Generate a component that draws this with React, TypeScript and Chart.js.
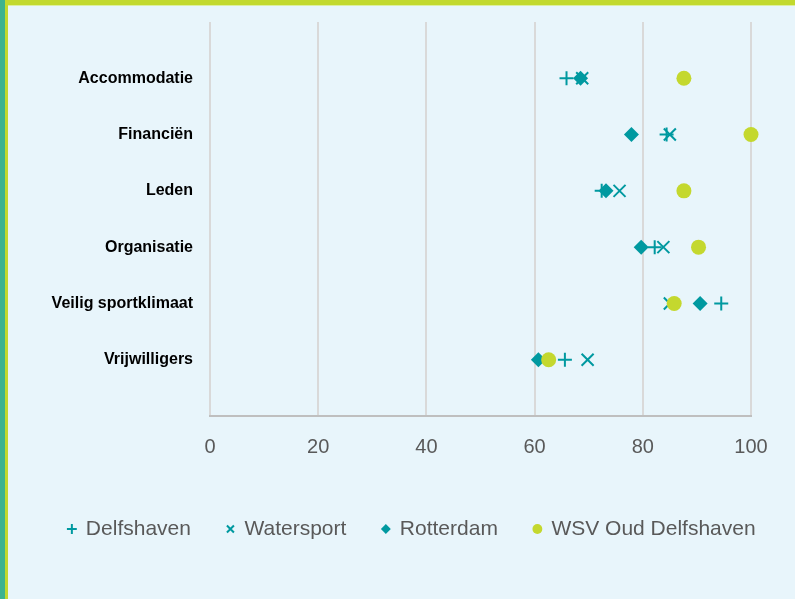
import React, { useEffect, useRef } from 'react';
import { Chart, registerables } from 'chart.js';

Chart.register(...registerables);

const categories = ['Accommodatie', 'Financiën', 'Leden', 'Organisatie', 'Veilig sportklimaat', 'Vrijwilligers'];
const seriesNames = ['Delfshaven', 'Watersport', 'Rotterdam', 'WSV Oud Delfshaven'];
const delfshaven = [65.9, 84.4, 72.4, 82.2, 94.5, 65.6];
const watersport = [68.8, 85.0, 75.7, 83.8, 85.0, 69.8];
const rotterdam = [68.5, 77.9, 73.2, 79.7, 90.6, 60.7];
const wsvOudDelfshaven = [87.6, 100, 87.6, 90.3, 85.8, 62.6];
const xMin = 0;
const xMax = 100;
const xStep = 20;

const TEAL = '#0099A0';
const LIME = '#C4D82E';

function points(values: number[]) {
  return values.map((v, i) => ({ x: v, y: i + 1 }));
}

export default function App() {
  const ref = useRef<HTMLCanvasElement | null>(null);

  useEffect(() => {
    if (!ref.current) return;
    const chart = new Chart(ref.current, {
      type: 'scatter',
      data: {
        datasets: [
          {
            label: seriesNames[0],
            data: points(delfshaven),
            pointStyle: 'cross',
            pointRadius: 7,
            borderColor: TEAL,
            backgroundColor: TEAL,
            borderWidth: 2,
            order: 4,
          },
          {
            label: seriesNames[1],
            data: points(watersport),
            pointStyle: 'crossRot',
            pointRadius: 8.5,
            borderColor: TEAL,
            backgroundColor: TEAL,
            borderWidth: 2,
            order: 3,
          },
          {
            label: seriesNames[2],
            data: points(rotterdam),
            pointStyle: 'rectRot',
            pointRadius: 7.5,
            borderColor: TEAL,
            backgroundColor: TEAL,
            borderWidth: 0,
            order: 2,
          },
          {
            label: seriesNames[3],
            data: points(wsvOudDelfshaven),
            pointStyle: 'circle',
            pointRadius: 7.5,
            borderColor: LIME,
            backgroundColor: LIME,
            borderWidth: 0,
            order: 1,
          },
        ],
      },
      options: {
        responsive: false,
        animation: false,
        events: [],
        clip: false as any,
        layout: { padding: { left: 29, right: 0, top: 22, bottom: 49.5 } },
        plugins: {
          tooltip: { enabled: false },
          legend: {
            position: 'bottom',
            labels: {
              usePointStyle: true,
              boxWidth: 7,
              boxHeight: 7,
              padding: 36,
              color: '#595959',
              font: { family: '"Liberation Sans", Arial, sans-serif', size: 21 },
              sort: (a: any, b: any) => a.datasetIndex - b.datasetIndex,
            },
          },
        },
        scales: {
          x: {
            type: 'linear',
            min: xMin,
            max: xMax,
            ticks: {
              stepSize: xStep,
              padding: 19,
              color: '#595959',
              font: { family: '"Liberation Sans", Arial, sans-serif', size: 20 },
            },
            grid: { color: '#D9D9D9', lineWidth: 2, drawTicks: false },
            border: { color: '#BFBFBF', width: 2 },
            afterFit: (scale: any) => {
              scale.height = 66.5;
            },
          },
          y: {
            type: 'linear',
            min: 0,
            max: categories.length + 1,
            reverse: true,
            ticks: {
              stepSize: 1,
              padding: 17,
              color: '#000000',
              font: { family: '"Liberation Sans", Arial, sans-serif', size: 16, weight: 'bold' },
              callback: (v: any) => {
                const i = Number(v) - 1;
                return i >= 0 && i < categories.length ? categories[i] : '';
              },
            },
            grid: { display: false, drawTicks: false },
            border: { display: false },
            afterFit: (scale: any) => {
              scale.width = 181;
              scale.paddingTop = 0;
              scale.paddingBottom = 0;
            },
          },
          yRight: {
            type: 'linear',
            position: 'right',
            min: 0,
            max: categories.length + 1,
            ticks: { display: false },
            grid: { display: false, drawTicks: false },
            border: { display: false },
            afterFit: (scale: any) => {
              scale.width = 44;
              scale.paddingTop = 0;
              scale.paddingBottom = 0;
            },
          },
        },
      },
    });
    return () => chart.destroy();
  }, []);

  return (
    <div style={{ position: 'fixed', left: 0, top: 0, width: 795, height: 599, background: '#E8F5FB', overflow: 'hidden' }}>
      <div style={{ position: 'absolute', left: 0, top: 0, width: 5, height: 599, background: '#3DB38F' }} />
      <div style={{ position: 'absolute', left: 5, top: 0, width: 3, height: 599, background: '#C2D92E' }} />
      <div style={{ position: 'absolute', left: 5, top: 0, width: 790, height: 5, background: '#C2D92E' }} />
      <div style={{ position: 'absolute', left: 8, top: 5, width: 787, height: 1, background: '#DDEFA0' }} />
      <canvas ref={ref} width={795} height={599} style={{ position: 'absolute', left: 0, top: 0, width: 795, height: 599 }} />
    </div>
  );
}
